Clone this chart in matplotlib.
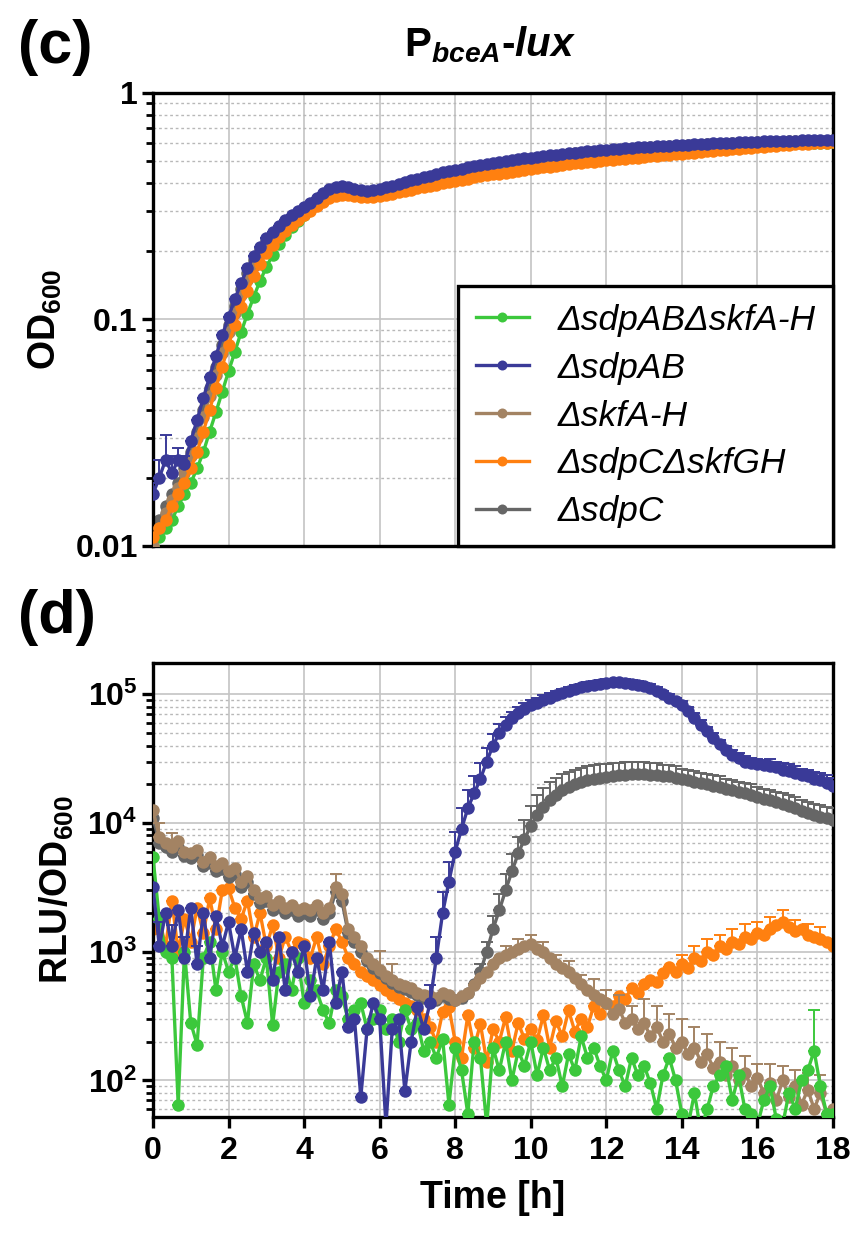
import numpy as np
import matplotlib
matplotlib.use("Agg")
import matplotlib.pyplot as plt
from matplotlib.ticker import LogLocator, NullFormatter

plt.rcParams['font.family'] = ['Liberation Sans', 'DejaVu Sans']
plt.rcParams['font.weight'] = 'bold'
plt.rcParams['axes.labelweight'] = 'bold'
plt.rcParams['mathtext.fontset'] = 'custom'
plt.rcParams['mathtext.rm'] = 'Liberation Sans:bold'
plt.rcParams['mathtext.bf'] = 'Liberation Sans:bold'
plt.rcParams['mathtext.it'] = 'Liberation Sans:italic:bold'
plt.rcParams['mathtext.default'] = 'rm'

# time axis, one reading every 10 min, 0 - 18 h
time_h = np.arange(109) / 6

labels = ["\u0394sdpAB\u0394skfA-H", "\u0394sdpAB", "\u0394skfA-H", "\u0394sdpC\u0394skfGH", "\u0394sdpC"]
colors = ["#3cc83c", "#3a3a98", "#a38363", "#ff8010", "#666666"]

# (c) OD600
od_green = [0.010, 0.011, 0.012, 0.013, 0.015, 0.017, 0.019, 0.022, 0.026, 0.032, 0.039, 0.048,
            0.059, 0.072, 0.088, 0.106, 0.126, 0.148, 0.170, 0.193, 0.215, 0.236, 0.255, 0.273,
            0.290, 0.306, 0.323, 0.339, 0.353, 0.362, 0.365, 0.363, 0.358, 0.355, 0.354, 0.356,
            0.360, 0.366, 0.372, 0.379, 0.386, 0.393, 0.400, 0.407, 0.414, 0.421, 0.428, 0.434,
            0.440, 0.446, 0.452, 0.457, 0.462, 0.467, 0.472, 0.477, 0.482, 0.487, 0.492, 0.496,
            0.500, 0.504, 0.508, 0.512, 0.516, 0.520, 0.524, 0.528, 0.531, 0.534, 0.537, 0.540,
            0.543, 0.546, 0.549, 0.552, 0.554, 0.557, 0.559, 0.562, 0.564, 0.566, 0.568, 0.570,
            0.572, 0.574, 0.576, 0.578, 0.580, 0.582, 0.583, 0.585, 0.586, 0.588, 0.589, 0.591,
            0.592, 0.593, 0.594, 0.596, 0.597, 0.598, 0.599, 0.600, 0.601, 0.602, 0.603, 0.604,
            0.605]
od_blue = [0.017, 0.020, 0.024, 0.021, 0.024, 0.023, 0.029, 0.036, 0.045, 0.056, 0.069, 0.085,
           0.103, 0.123, 0.145, 0.168, 0.190, 0.210, 0.228, 0.244, 0.259, 0.274, 0.288, 0.300,
           0.313, 0.328, 0.345, 0.362, 0.376, 0.385, 0.388, 0.385, 0.378, 0.372, 0.370, 0.372,
           0.377, 0.383, 0.390, 0.397, 0.404, 0.411, 0.418, 0.425, 0.432, 0.439, 0.446, 0.452,
           0.458, 0.464, 0.470, 0.475, 0.480, 0.485, 0.490, 0.495, 0.500, 0.505, 0.510, 0.514,
           0.518, 0.522, 0.526, 0.530, 0.534, 0.538, 0.542, 0.546, 0.549, 0.552, 0.555, 0.558,
           0.561, 0.564, 0.567, 0.570, 0.572, 0.575, 0.577, 0.580, 0.582, 0.584, 0.586, 0.588,
           0.590, 0.592, 0.594, 0.596, 0.598, 0.600, 0.601, 0.603, 0.604, 0.606, 0.607, 0.609,
           0.610, 0.611, 0.612, 0.614, 0.615, 0.616, 0.617, 0.618, 0.619, 0.620, 0.621, 0.622,
           0.623]
od_blue_err = [0.002, 0.004, 0.007, 0.004, 0.003, 0.002] + [0.0] * 103
od_brown = [0.010, 0.012, 0.014, 0.016, 0.018, 0.021, 0.025, 0.030, 0.037, 0.046, 0.057, 0.071,
            0.088, 0.107, 0.128, 0.150, 0.173, 0.195, 0.214, 0.232, 0.248, 0.263, 0.277, 0.290,
            0.303, 0.318, 0.334, 0.350, 0.364, 0.374, 0.378, 0.376, 0.370, 0.365, 0.363, 0.365,
            0.368, 0.374, 0.380, 0.387, 0.394, 0.401, 0.408, 0.415, 0.422, 0.429, 0.436, 0.442,
            0.448, 0.454, 0.460, 0.465, 0.470, 0.475, 0.480, 0.485, 0.490, 0.495, 0.500, 0.504,
            0.508, 0.512, 0.516, 0.520, 0.524, 0.528, 0.532, 0.536, 0.539, 0.542, 0.545, 0.548,
            0.551, 0.554, 0.557, 0.560, 0.562, 0.565, 0.567, 0.570, 0.572, 0.574, 0.576, 0.578,
            0.580, 0.582, 0.584, 0.586, 0.588, 0.590, 0.591, 0.593, 0.594, 0.596, 0.597, 0.599,
            0.600, 0.601, 0.602, 0.604, 0.605, 0.606, 0.607, 0.608, 0.609, 0.610, 0.611, 0.612,
            0.613]
od_orange = [0.011, 0.012, 0.013, 0.015, 0.017, 0.019, 0.022, 0.026, 0.032, 0.040, 0.050, 0.062,
             0.077, 0.095, 0.114, 0.134, 0.155, 0.176, 0.196, 0.214, 0.231, 0.247, 0.262, 0.276,
             0.289, 0.302, 0.316, 0.330, 0.343, 0.352, 0.356, 0.355, 0.350, 0.347, 0.346, 0.348,
             0.351, 0.355, 0.359, 0.364, 0.369, 0.374, 0.379, 0.384, 0.389, 0.394, 0.399, 0.404,
             0.409, 0.414, 0.419, 0.424, 0.429, 0.433, 0.437, 0.441, 0.445, 0.449, 0.453, 0.457,
             0.461, 0.465, 0.469, 0.473, 0.477, 0.481, 0.485, 0.489, 0.492, 0.495, 0.498, 0.501,
             0.504, 0.507, 0.510, 0.513, 0.516, 0.519, 0.522, 0.525, 0.528, 0.531, 0.534, 0.537,
             0.540, 0.543, 0.546, 0.549, 0.552, 0.555, 0.558, 0.561, 0.564, 0.567, 0.570, 0.573,
             0.576, 0.579, 0.582, 0.585, 0.588, 0.591, 0.594, 0.596, 0.598, 0.600, 0.602, 0.604,
             0.606]
od_gray = [0.011, 0.013, 0.015, 0.017, 0.019, 0.022, 0.026, 0.032, 0.040, 0.050, 0.062, 0.077,
           0.095, 0.115, 0.137, 0.160, 0.183, 0.204, 0.222, 0.239, 0.254, 0.269, 0.283, 0.296,
           0.309, 0.324, 0.341, 0.358, 0.372, 0.381, 0.384, 0.381, 0.374, 0.368, 0.366, 0.368,
           0.372, 0.378, 0.385, 0.392, 0.399, 0.406, 0.413, 0.420, 0.427, 0.434, 0.441, 0.447,
           0.453, 0.459, 0.465, 0.470, 0.475, 0.480, 0.485, 0.490, 0.495, 0.500, 0.505, 0.509,
           0.513, 0.517, 0.521, 0.525, 0.529, 0.533, 0.537, 0.541, 0.544, 0.547, 0.550, 0.553,
           0.556, 0.559, 0.562, 0.565, 0.567, 0.570, 0.572, 0.575, 0.577, 0.579, 0.581, 0.583,
           0.585, 0.587, 0.589, 0.591, 0.593, 0.595, 0.596, 0.598, 0.599, 0.601, 0.602, 0.604,
           0.605, 0.606, 0.607, 0.609, 0.610, 0.611, 0.612, 0.613, 0.614, 0.615, 0.616, 0.617,
           0.618]

# (d) RLU/OD600
rlu_green = [5400, 1800, 1000, 900, 65, 1000, 280, 190, 900, 1200, 500, 1000,
             700, 900, 450, 280, 800, 600, 900, 270, 700, 800, 500, 900,
             400, 600, 500, 350, 280, 500, 450, 300, 350, 400, 250, 300,
             350, 250, 300, 200, 350, 250, 280, 170, 200, 150, 210, 65,
             180, 120, 55, 200, 150, 45, 180, 120, 200, 100, 170, 130,
             200, 110, 180, 120, 150, 90, 160, 120, 220, 150, 180, 130,
             100, 170, 120, 90, 150, 110, 130, 95, 60, 110, 150, 100,
             55, 45, 80, 40, 60, 90, 110, 130, 70, 110, 60, 55,
             45, 70, 90, 50, 45, 80, 60, 100, 120, 170, 90, 55,
             55]
rlu_green_err = [0] * 105 + [180, 0, 0, 0]
rlu_blue = [3200, 1100, 2000, 1100, 2100, 900, 2200, 800, 2000, 900, 1900, 1100,
            1700, 900, 1500, 700, 1400, 1000, 1200, 600, 1300, 500, 1000, 700,
            1100, 450, 900, 500, 1200, 400, 700, 260, 300, 74, 250, 400,
            300, 45, 250, 300, 83, 200, 370, 250, 400, 900, 2000, 3500,
            6000, 9000, 13000, 17000, 22000, 30000, 40000, 50000, 58000, 65000, 71000, 77000,
            82000, 86000, 90000, 94000, 98000, 102000, 106000, 110000, 113000, 116000, 119000, 121000,
            123000, 124000, 124000, 123000, 121000, 118000, 115000, 112000, 106000, 100000, 94000, 88000,
            82000, 74000, 66000, 58000, 52000, 46000, 41000, 37000, 34000, 32000, 30000, 29000,
            28500, 28000, 27500, 27000, 26000, 25500, 24500, 23500, 23000, 22000, 21500, 20500,
            19500]
rlu_blue_err = [0, 600, 0, 500, 0, 400, 0, 300, 0, 0, 0, 0,
                0, 0, 0, 0, 0, 0, 0, 0, 0, 0, 0, 0,
                0, 0, 0, 0, 0, 0, 0, 0, 0, 0, 0, 0,
                0, 0, 0, 0, 0, 0, 0, 0, 150, 400, 900, 1500,
                2500, 4000, 5000, 6000, 7000, 8000, 9000, 9000, 9000, 8000, 8000, 8000,
                8000, 8000, 8000, 8000, 8000, 8000, 8000, 8000, 8000, 8000, 8000, 8000,
                8000, 8000, 8000, 8000, 8000, 8000, 8000, 8000, 7000, 7000, 6000, 6000,
                6000, 6000, 5000, 5000, 4000, 4000, 3000, 3000, 3000, 3000, 3000, 3000,
                3000, 3000, 4000, 3000, 3000, 3000, 3000, 3000, 3000, 3000, 3000, 3000,
                3000]
rlu_brown = [12600, 7800, 7000, 6500, 7200, 6000, 5800, 6200, 5000, 5400, 4600, 4900,
             4200, 4500, 3500, 3900, 3000, 2600, 2700, 2300, 2500, 2200, 2300, 2100,
             2200, 2100, 2300, 2000, 2200, 3200, 2800, 1500, 1300, 1100, 900, 800,
             720, 650, 600, 560, 540, 520, 480, 460, 450, 440, 480, 460,
             420, 450, 480, 550, 620, 700, 800, 900, 950, 1000, 1050, 1100,
             1150, 1050, 1000, 900, 800, 750, 700, 620, 560, 500, 460, 430,
             400, 330, 360, 280, 300, 250, 280, 220, 260, 200, 230, 180,
             200, 160, 180, 140, 160, 125, 140, 110, 130, 100, 115, 90,
             105, 80, 95, 70, 100, 75, 90, 65, 85, 60, 80, 55,
             60]
rlu_brown_err = [0, 2200, 0, 1800, 0, 0, 0, 0, 0, 0, 0, 0,
                 0, 0, 0, 0, 0, 0, 0, 0, 0, 0, 0, 0,
                 0, 0, 0, 0, 0, 800, 0, 0, 0, 0, 0, 0,
                 300, 0, 200, 0, 0, 0, 0, 0, 0, 0, 0, 0,
                 0, 0, 0, 0, 0, 0, 0, 0, 150, 0, 200, 0,
                 200, 0, 200, 0, 150, 0, 150, 0, 100, 0, 150, 0,
                 100, 0, 100, 0, 80, 0, 150, 0, 120, 0, 100, 0,
                 100, 0, 80, 0, 70, 0, 60, 0, 50, 0, 40, 0,
                 30, 0, 40, 0, 30, 0, 30, 0, 30, 0, 30, 0,
                 0]
rlu_orange = [1500, 1800, 1100, 2500, 1000, 1800, 1200, 2200, 1400, 2600, 1500, 3000,
              3100, 2200, 1800, 2500, 1300, 2000, 1100, 1600, 900, 1300, 1000, 1200,
              1150, 900, 1300, 800, 1100, 1500, 1200, 900, 800, 700, 650, 600,
              550, 500, 460, 430, 400, 380, 350, 300, 260, 200, 340, 370,
              200, 150, 320, 180, 275, 140, 250, 200, 310, 170, 280, 210,
              250, 205, 320, 180, 290, 220, 350, 240, 300, 260, 380, 330,
              400, 380, 450, 430, 520, 480, 560, 600, 580, 680, 760, 700,
              800, 750, 900, 850, 1000, 950, 1100, 1050, 1200, 1150, 1300, 1250,
              1400, 1350, 1500, 1600, 1700, 1550, 1450, 1500, 1350, 1300, 1250, 1200,
              1100]
rlu_orange_err = [0] * 84 + [150, 0, 200, 0, 250, 0, 250, 0, 300, 0, 350, 0,
                             300, 0, 350, 0, 400, 0, 300, 0, 300, 0, 300, 0, 0]
rlu_gray = [11000, 7000, 6500, 6000, 6500, 5500, 5300, 5600, 4600, 4900, 4200, 4400,
            3800, 4000, 3200, 3500, 2800, 2400, 2500, 2100, 2300, 2000, 2100, 1900,
            2000, 1900, 2100, 1800, 2000, 2900, 2500, 1400, 1200, 1000, 850, 750,
            680, 620, 570, 530, 510, 490, 460, 440, 430, 420, 450, 430,
            420, 440, 480, 560, 700, 1000, 1500, 2100, 3000, 4200, 5800, 7500,
            9500, 11500, 13300, 15000, 16500, 18000, 19000, 20000, 20800, 21500, 22000, 22500,
            22800, 23200, 23500, 23800, 24000, 24000, 24000, 23800, 23500, 23200, 23000, 22500,
            22000, 21500, 21000, 20500, 20000, 19500, 19000, 18500, 18000, 17500, 17000, 16500,
            16000, 15500, 15000, 14500, 14000, 13500, 13000, 12500, 12000, 11500, 11200, 10900,
            10500]
rlu_gray_err = [0] * 52 + [100, 200, 400, 700, 1000, 1500, 2000, 3000,
                           4000, 5000, 5500, 6000, 6000, 6000, 6000, 6000, 6000, 6000, 6000, 6000,
                           6000, 6000, 6000, 6000, 6000, 6000, 6000, 5500, 5500, 5000, 5000, 5000,
                           4500, 4500, 4500, 4000, 4000, 4000, 4000, 3500, 3500, 3500, 3500, 3500,
                           3000, 3000, 3000, 3000, 3000, 3000, 3000, 2500, 2500, 2500, 2500, 2500,
                           2500]

od_series = [od_green, od_blue, od_brown, od_orange, od_gray]
od_errs = [None, od_blue_err, None, None, None]
rlu_series = [rlu_green, rlu_blue, rlu_brown, rlu_orange, rlu_gray]
rlu_errs = [rlu_green_err, rlu_blue_err, rlu_brown_err, rlu_orange_err, rlu_gray_err]
z_c = [3, 6, 4, 5, 2]
z_d = [5, 6, 4, 2, 3]

fig = plt.figure(figsize=(8.57, 12.39), dpi=100)
ax_c = fig.add_axes([153 / 857, 1 - 546 / 1239, 680 / 857, 453 / 1239])
ax_d = fig.add_axes([153 / 857, 1 - 1117 / 1239, 680 / 857, 454 / 1239])


def style_axes(ax):
    ax.set_yscale("log")
    ax.set_xlim(0, 18)
    ax.set_xticks(range(0, 19, 2))
    ax.yaxis.set_minor_locator(LogLocator(base=10, subs=np.arange(2, 10)))
    ax.yaxis.set_minor_formatter(NullFormatter())
    ax.grid(True, which="major", color="#c4c4c4", lw=1.2)
    ax.grid(True, which="minor", axis="y", color="#b8b8b8", lw=1.0, ls=(0, (2, 2)))
    ax.set_axisbelow(True)
    for s in ax.spines.values():
        s.set_linewidth(2.4)
    ax.tick_params(axis="y", which="major", length=8, width=2.4, labelsize=23, pad=3)
    ax.tick_params(axis="y", which="minor", length=5, width=2.0)


def draw(ax, vals, err, col, z, lab=None):
    vals = np.asarray(vals, dtype=float)
    if err is not None:
        err = np.asarray(err, dtype=float)
        ax.errorbar(time_h, vals, yerr=[np.zeros_like(err), err], fmt="none", ecolor=col,
                    elinewidth=1.4, capsize=4, capthick=1.4, zorder=z)
    ax.plot(time_h, vals, "-o", color=col, ms=9, lw=2.4, mew=0, label=lab, zorder=z)


for vals, err, col, lab, z in zip(od_series, od_errs, colors, labels, z_c):
    draw(ax_c, vals, err, col, z, lab)
style_axes(ax_c)
ax_c.set_ylim(0.01, 1)
ax_c.set_yticks([0.01, 0.1, 1])
ax_c.set_yticklabels(["0.01", "0.1", "1"])
ax_c.tick_params(axis="x", length=0, labelbottom=False)
ax_c.set_ylabel("OD$_{600}$", fontsize=27, labelpad=8)

leg = ax_c.legend(loc="lower right", bbox_to_anchor=(1, 0), borderaxespad=0,
                  prop={"family": "Liberation Sans", "style": "italic", "weight": "normal", "size": 25.5},
                  fancybox=False, framealpha=1, edgecolor="black", handlelength=1.5,
                  handletextpad=0.8, labelspacing=0.42, borderpad=0.5, markerscale=0.8)
leg.get_frame().set_linewidth(2.4)
leg.set_zorder(10)

for vals, err, col, z in zip(rlu_series, rlu_errs, colors, z_d):
    draw(ax_d, vals, err, col, z)
style_axes(ax_d)
ax_d.set_ylim(52, 1.75e5)
ax_d.set_yticks([1e2, 1e3, 1e4, 1e5])
ax_d.set_yticklabels(["10$^{2}$", "10$^{3}$", "10$^{4}$", "10$^{5}$"])
ax_d.tick_params(axis="x", length=8, width=2.4, labelsize=23, pad=6)
ax_d.set_ylabel("RLU/OD$_{600}$", fontsize=27, labelpad=8)
ax_d.set_xlabel("Time [h]", fontsize=27, labelpad=10)

fig.text(18 / 857, 1 - 48 / 1239, "(c)", fontsize=44, va="center", ha="left")
fig.text(18 / 857, 1 - 617 / 1239, "(d)", fontsize=44, va="center", ha="left")
fig.text(490 / 857, 1 - 45 / 1239, "P$_{\\mathit{bceA}}$$\\mathit{\u2010lux}$",
         fontsize=29, ha="center", va="center")

fig.savefig("out.png", dpi=100)
